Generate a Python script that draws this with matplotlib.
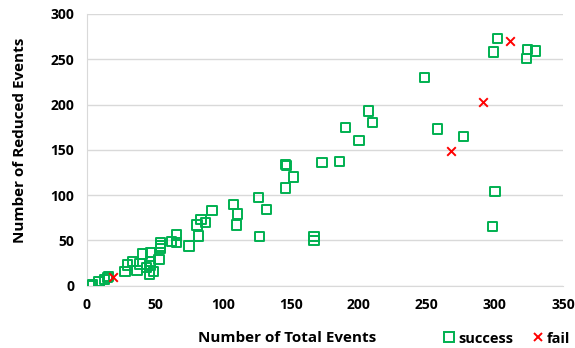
import matplotlib.pyplot as plt
from matplotlib.lines import Line2D

plt.rcParams['font.family'] = ['Open Sans', 'DejaVu Sans']
plt.rcParams['font.weight'] = 'bold'

# success runs: (total events, reduced events)
success_total = [3, 4, 9, 13, 15, 16, 28, 30, 34, 37, 39, 41, 44, 47, 47, 47, 46, 49,
                 53, 54, 54, 54, 62, 66, 66, 75, 82, 81, 84, 87, 92, 108, 111, 110,
                 126, 127, 132, 146, 147, 146, 152, 167, 167, 173, 186, 190, 200,
                 207, 210, 248, 258, 277, 298, 300, 299, 302, 323, 324, 330]
success_reduced = [0, 1, 5, 7, 9, 10, 16, 23, 27, 17, 24, 35, 20, 37, 27, 22, 13, 16,
                   29, 47, 44, 41, 49, 56, 48, 44, 55, 67, 73, 70, 83, 90, 79, 67,
                   97, 54, 84, 134, 133, 108, 120, 54, 50, 136, 137, 175, 160,
                   193, 180, 230, 173, 165, 65, 104, 258, 273, 251, 261, 259]

# failed runs
fail_total = [19, 268, 291, 311]
fail_reduced = [10, 149, 203, 270]

green = '#00B050'
red = '#FF0000'

fig = plt.figure(figsize=(5.75, 3.48), dpi=100)
ax = fig.add_axes([0.151, 0.179, 0.828, 0.781])

ax.scatter(success_total, success_reduced, marker='s', s=45, facecolors='none',
           edgecolors=green, linewidths=1.4, zorder=3)
ax.scatter(fail_total, fail_reduced, marker='x', s=38, color=red, linewidths=1.4, zorder=4)

ax.set_xlim(0, 350)
ax.set_ylim(0, 300)
ax.set_xticks(range(0, 351, 50))
ax.set_yticks(range(0, 301, 50))
ax.tick_params(length=0, labelsize=10, pad=9)
for lbl in ax.get_xticklabels() + ax.get_yticklabels():
    lbl.set_fontweight('bold')
ax.yaxis.grid(True, color='#D9D9D9', linewidth=1)
ax.set_axisbelow(True)
for side in ['top', 'right']:
    ax.spines[side].set_visible(False)
for side in ['left', 'bottom']:
    ax.spines[side].set_color('#D9D9D9')

fig.text(0.499, 0.029, 'Number of Total Events', ha='center', va='center',
         fontsize=11, fontweight='bold')
fig.text(0.035, 0.598, 'Number of Reduced Events', ha='center', va='center',
         rotation=90, fontsize=11, fontweight='bold')

handles = [Line2D([], [], marker='s', linestyle='none', markerfacecolor='none',
                  markeredgecolor=green, markeredgewidth=1.4, markersize=7),
           Line2D([], [], marker='x', linestyle='none', color=red,
                  markeredgewidth=1.4, markersize=6)]
fig.legend(handles, ['success', 'fail'], loc='center', bbox_to_anchor=(0.88, 0.027),
           ncol=2, frameon=False, handletextpad=0.1, columnspacing=1.2,
           prop={'size': 10.5, 'weight': 'bold'}, handlelength=1, borderpad=0)

fig.savefig('out.png', dpi=100)
